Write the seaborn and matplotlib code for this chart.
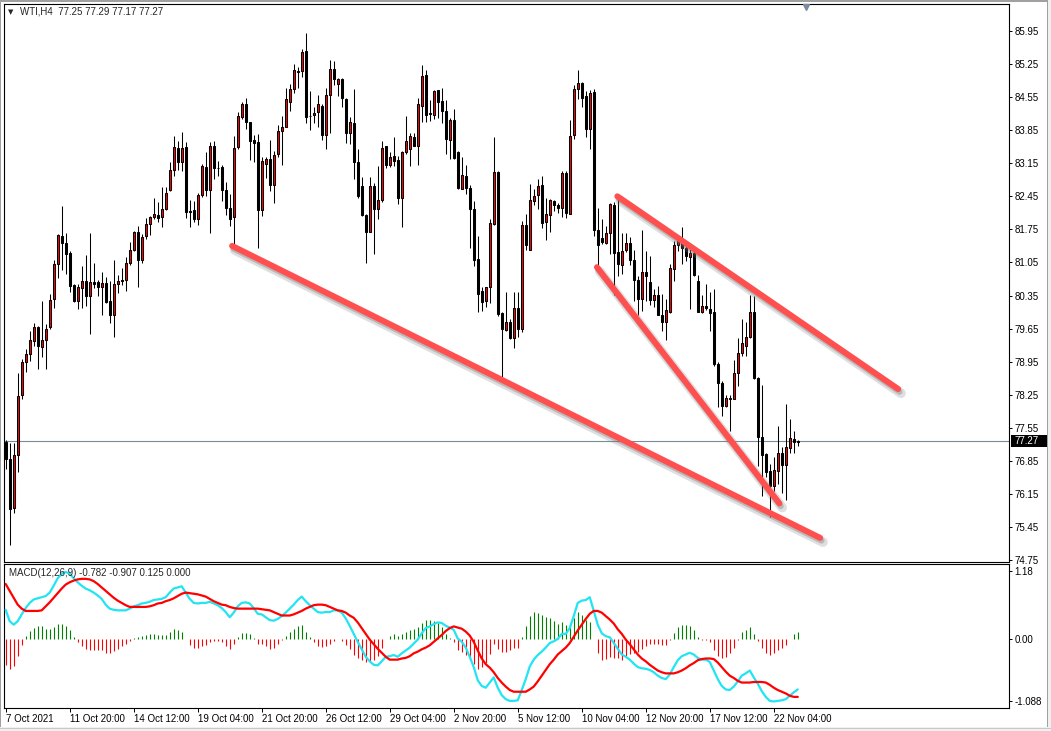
import numpy as np
import pandas as pd
import matplotlib
matplotlib.use("Agg")
import matplotlib.pyplot as plt
import matplotlib.patheffects as pe
import matplotlib.transforms as mtransforms
from matplotlib.patches import Rectangle
import seaborn as sns

# WTI, H4 candles (7 Oct 2021 -> 22 Nov 2021)
opens = [77.24, 76.90, 75.86, 76.97, 78.24, 78.94, 79.12, 79.39, 79.69, 79.26,
         79.41, 79.69, 80.28, 81.01, 81.61, 81.46, 81.24, 80.57, 80.23, 80.50,
         80.65, 80.34, 80.63, 80.63, 80.52, 80.61, 80.23, 79.94, 80.59, 80.65,
         80.67, 81.03, 81.32, 81.69, 81.11, 81.61, 81.87, 82.02, 82.05, 82.02,
         82.19, 82.59, 83.00, 83.47, 83.17, 83.49, 82.14, 82.15, 81.96, 82.47,
         83.06, 82.58, 83.51, 83.05, 83.06, 82.58, 82.20, 82.01, 83.49, 84.13,
         84.41, 84.02, 83.65, 83.60, 82.15, 83.14, 83.25, 82.69, 83.34, 83.83,
         83.92, 84.45, 84.72, 85.09, 85.10, 85.52, 84.16, 84.18, 84.23, 84.37,
         83.74, 84.59, 85.14, 84.82, 84.93, 84.51, 83.80, 84.00, 83.18, 82.66,
         82.05, 81.70, 82.66, 82.18, 82.38, 83.51, 83.12, 83.30, 83.21, 82.41,
         83.39, 83.45, 83.70, 83.52, 84.37, 85.02, 84.21, 84.18, 84.69, 84.47,
         84.25, 83.65, 84.07, 83.38, 82.61, 82.88, 82.63, 82.18, 81.13, 80.44,
         80.23, 80.52, 81.86, 82.96, 79.98, 79.63, 79.79, 79.45, 80.09, 79.64,
         81.85, 81.32, 82.34, 82.47, 82.69, 81.90, 82.05, 82.34, 82.27, 82.20,
         82.94, 82.08, 83.74, 84.72, 84.85, 84.58, 83.87, 84.65, 81.74, 81.57,
         81.47, 81.67, 82.27, 81.27, 81.00, 81.32, 81.46, 81.10, 80.68, 80.28,
         80.84, 80.63, 80.26, 80.36, 79.94, 79.80, 80.01, 80.92, 81.41, 81.48,
         81.35, 81.16, 81.25, 80.66, 80.01, 80.12, 80.07, 80.01, 78.91, 78.50,
         78.01, 78.19, 78.17, 78.70, 79.13, 79.28, 79.48, 80.00, 78.61, 77.35,
         76.99, 76.64, 76.32, 76.64, 77.02, 76.77, 77.12, 77.32, 77.25]
highs = [77.30, 77.23, 77.23, 78.72, 79.01, 79.21, 79.59, 79.77, 79.70, 80.23,
         79.74, 80.38, 81.11, 81.65, 82.25, 81.68, 81.29, 80.59, 80.59, 80.97,
         81.21, 81.68, 81.03, 80.68, 80.85, 80.75, 80.65, 81.11, 80.79, 80.94,
         81.17, 81.48, 81.72, 81.83, 81.65, 81.99, 82.03, 82.42, 82.32, 82.65,
         82.65, 83.18, 83.73, 83.62, 83.81, 83.60, 82.37, 82.36, 82.52, 83.14,
         83.39, 83.60, 83.61, 83.20, 83.12, 82.76, 82.50, 83.73, 84.23, 84.45,
         84.52, 84.03, 83.74, 83.76, 83.28, 83.28, 83.65, 83.41, 83.96, 84.16,
         84.75, 84.83, 85.26, 85.18, 85.56, 85.90, 84.67, 84.34, 84.59, 84.40,
         84.74, 85.33, 85.31, 84.96, 84.96, 84.52, 84.13, 84.72, 83.45, 82.85,
         82.07, 82.85, 82.74, 83.10, 83.63, 83.52, 83.39, 83.71, 83.30, 83.41,
         84.16, 83.79, 83.78, 84.54, 85.23, 85.12, 84.49, 84.69, 84.71, 84.75,
         84.49, 84.11, 84.30, 83.40, 83.28, 83.12, 82.69, 82.34, 81.62, 80.52,
         80.54, 81.97, 83.70, 82.99, 80.01, 80.43, 79.85, 80.43, 80.43, 81.92,
         82.08, 82.70, 82.61, 82.81, 82.88, 82.42, 82.39, 82.38, 82.30, 82.98,
         82.99, 84.07, 84.80, 85.12, 84.87, 84.67, 84.69, 84.72, 82.21, 81.98,
         81.83, 82.31, 82.32, 82.47, 81.67, 81.68, 81.58, 81.32, 80.76, 81.74,
         81.29, 81.18, 80.48, 80.56, 80.38, 80.28, 81.01, 81.50, 81.54, 81.80,
         81.50, 81.34, 81.32, 80.79, 80.37, 80.59, 80.43, 80.48, 78.94, 78.54,
         78.25, 78.25, 78.99, 79.45, 79.85, 79.79, 80.36, 80.34, 78.62, 78.46,
         77.02, 76.79, 76.94, 77.59, 77.15, 78.06, 77.74, 77.48, 77.29]
lows = [76.68, 75.08, 75.75, 76.62, 78.17, 78.74, 78.97, 79.28, 78.79, 79.05,
        78.79, 79.64, 80.08, 80.72, 80.90, 80.81, 80.43, 80.21, 80.07, 80.08,
        80.12, 79.53, 80.50, 80.34, 79.93, 80.20, 79.76, 79.47, 80.41, 80.57,
        80.45, 81.00, 81.29, 80.54, 81.04, 81.54, 81.63, 81.96, 81.91, 81.79,
        82.16, 82.56, 82.89, 83.00, 82.98, 81.99, 81.81, 81.91, 81.85, 82.43,
        82.45, 81.67, 82.82, 82.89, 82.36, 82.05, 81.83, 81.40, 83.45, 84.08,
        83.87, 83.21, 83.17, 81.35, 82.03, 82.83, 82.56, 82.31, 83.28, 83.11,
        83.91, 84.25, 84.64, 84.75, 84.98, 84.00, 83.86, 84.01, 83.92, 83.65,
        83.45, 83.78, 84.80, 84.58, 84.35, 83.57, 83.56, 82.81, 82.42, 82.03,
        81.03, 81.69, 81.23, 81.98, 82.32, 83.04, 83.07, 83.09, 82.29, 81.81,
        83.35, 83.09, 83.51, 83.12, 84.03, 84.03, 84.05, 84.09, 84.11, 84.01,
        83.35, 83.23, 83.23, 82.61, 82.60, 82.50, 81.36, 80.97, 80.01, 80.03,
        80.10, 80.19, 81.85, 79.92, 78.63, 79.59, 79.43, 79.24, 79.48, 79.57,
        81.32, 81.32, 82.27, 82.19, 81.78, 81.52, 81.69, 82.14, 82.10, 82.01,
        81.99, 82.07, 83.67, 84.51, 84.34, 83.70, 83.45, 81.61, 80.95, 81.45,
        81.45, 81.23, 80.36, 80.76, 80.81, 81.28, 80.99, 80.23, 79.93, 80.03,
        80.23, 80.15, 80.10, 79.93, 79.59, 79.41, 79.99, 80.65, 81.30, 81.02,
        81.08, 80.07, 80.76, 80.01, 79.99, 80.05, 79.59, 78.86, 77.99, 77.81,
        77.99, 77.48, 78.16, 78.43, 79.08, 79.08, 79.46, 78.59, 76.75, 76.10,
        76.50, 75.66, 76.22, 76.37, 76.17, 76.02, 77.02, 77.02, 77.17]
closes = [76.90, 75.84, 76.97, 78.22, 78.95, 79.12, 79.41, 79.69, 79.28, 79.41,
          79.64, 80.25, 81.01, 81.63, 81.46, 81.23, 80.55, 80.23, 80.54, 80.65,
          80.34, 80.63, 80.59, 80.52, 80.61, 80.21, 79.94, 80.59, 80.65, 80.68,
          81.03, 81.32, 81.70, 81.11, 81.59, 81.87, 82.02, 82.08, 81.99, 82.18,
          82.52, 83.00, 83.49, 83.17, 83.47, 82.12, 82.12, 81.98, 82.48, 83.09,
          82.59, 83.51, 83.04, 83.04, 82.58, 82.21, 81.98, 83.47, 84.16, 84.41,
          84.02, 83.63, 83.57, 82.15, 83.20, 83.23, 82.69, 83.32, 83.83, 83.91,
          84.51, 84.72, 85.12, 85.10, 85.50, 84.12, 84.14, 84.21, 84.40, 83.74,
          84.59, 85.14, 84.93, 84.93, 84.53, 83.80, 84.02, 83.17, 82.45, 82.05,
          81.70, 82.66, 82.18, 82.38, 83.47, 83.12, 83.28, 83.20, 82.42, 83.39,
          83.62, 83.72, 83.52, 84.40, 84.99, 84.18, 84.20, 84.67, 84.45, 84.25,
          83.67, 84.07, 83.27, 82.63, 82.90, 82.63, 82.18, 81.11, 80.39, 80.21,
          80.52, 81.89, 82.96, 79.96, 79.64, 79.79, 79.45, 80.09, 79.64, 81.85,
          81.41, 82.37, 82.45, 82.66, 81.89, 82.08, 82.37, 82.26, 82.20, 82.95,
          82.09, 83.73, 84.72, 84.85, 84.54, 83.87, 84.64, 81.74, 81.41, 81.48,
          81.67, 82.29, 81.25, 81.01, 81.30, 81.47, 81.10, 80.67, 80.28, 80.84,
          80.76, 80.26, 80.36, 79.94, 79.79, 80.04, 80.94, 81.41, 81.50, 81.35,
          81.18, 81.25, 80.78, 80.01, 80.12, 80.09, 79.99, 78.90, 78.50, 78.01,
          78.19, 78.17, 78.70, 79.13, 79.34, 79.48, 80.01, 78.61, 77.35, 76.97,
          76.62, 76.32, 76.66, 77.02, 76.77, 77.15, 77.33, 77.26, 77.27]

# MACD(12,26,9): main line (aqua) and signal line (red)
macd_main = [0.51, 0.31, 0.25, 0.31, 0.43, 0.54, 0.63, 0.69, 0.71, 0.73,
             0.75, 0.81, 0.93, 1.06, 1.14, 1.17, 1.14, 1.06, 0.99, 0.93,
             0.88, 0.85, 0.81, 0.76, 0.70, 0.60, 0.53, 0.51, 0.50, 0.50,
             0.50, 0.53, 0.57, 0.59, 0.62, 0.63, 0.65, 0.68, 0.69, 0.70,
             0.73, 0.81, 0.88, 0.90, 0.92, 0.81, 0.70, 0.63, 0.62, 0.63,
             0.63, 0.65, 0.62, 0.59, 0.54, 0.47, 0.38, 0.46, 0.57, 0.63,
             0.64, 0.62, 0.54, 0.44, 0.43, 0.38, 0.33, 0.32, 0.35, 0.40,
             0.46, 0.53, 0.60, 0.68, 0.74, 0.66, 0.59, 0.53, 0.47, 0.46,
             0.47, 0.47, 0.50, 0.50, 0.46, 0.36, 0.23, 0.09, -0.05, -0.18,
             -0.31, -0.39, -0.45, -0.46, -0.39, -0.31, -0.30, -0.28, -0.31, -0.25,
             -0.20, -0.15, -0.08, -0.01, 0.10, 0.19, 0.22, 0.26, 0.29, 0.28,
             0.23, 0.20, 0.16, 0.01, -0.05, -0.15, -0.31, -0.49, -0.72, -0.82,
             -0.85, -0.76, -0.67, -0.85, -0.98, -1.05, -1.08, -1.08, -1.07, -0.89,
             -0.70, -0.48, -0.36, -0.28, -0.22, -0.15, -0.07, -0.04, 0.00, 0.09,
             0.09, 0.19, 0.40, 0.63, 0.67, 0.68, 0.73, 0.49, 0.25, 0.10,
             0.05, 0.03, -0.07, -0.17, -0.27, -0.31, -0.36, -0.43, -0.49, -0.51,
             -0.52, -0.54, -0.58, -0.64, -0.68, -0.70, -0.62, -0.49, -0.37, -0.30,
             -0.27, -0.24, -0.27, -0.33, -0.36, -0.36, -0.40, -0.55, -0.70, -0.82,
             -0.88, -0.89, -0.83, -0.74, -0.64, -0.60, -0.55, -0.67, -0.78, -0.91,
             -1.01, -1.08, -1.09, -1.08, -1.07, -1.05, -0.99, -0.93, -0.88]
macd_signal = [0.96, 0.84, 0.72, 0.60, 0.53, 0.49, 0.49, 0.49, 0.49, 0.50,
               0.57, 0.64, 0.72, 0.80, 0.88, 0.95, 0.99, 1.02, 1.04, 1.05,
               1.05, 1.04, 1.01, 0.96, 0.90, 0.84, 0.78, 0.72, 0.67, 0.63,
               0.59, 0.56, 0.56, 0.56, 0.56, 0.56, 0.57, 0.59, 0.62, 0.63,
               0.66, 0.68, 0.71, 0.75, 0.79, 0.81, 0.80, 0.79, 0.78, 0.76,
               0.74, 0.70, 0.66, 0.63, 0.60, 0.59, 0.56, 0.54, 0.53, 0.53,
               0.53, 0.53, 0.53, 0.53, 0.52, 0.51, 0.50, 0.47, 0.44, 0.41,
               0.41, 0.41, 0.43, 0.46, 0.49, 0.53, 0.56, 0.59, 0.60, 0.60,
               0.59, 0.56, 0.53, 0.50, 0.49, 0.46, 0.41, 0.37, 0.29, 0.19,
               0.09, -0.01, -0.09, -0.17, -0.24, -0.31, -0.36, -0.36, -0.36, -0.34,
               -0.33, -0.30, -0.25, -0.22, -0.18, -0.15, -0.11, -0.05, 0.01, 0.07,
               0.14, 0.19, 0.22, 0.20, 0.18, 0.13, 0.06, -0.05, -0.20, -0.34,
               -0.44, -0.50, -0.58, -0.68, -0.76, -0.83, -0.89, -0.92, -0.92, -0.92,
               -0.92, -0.88, -0.83, -0.74, -0.64, -0.54, -0.44, -0.36, -0.27, -0.21,
               -0.15, -0.07, 0.04, 0.15, 0.25, 0.35, 0.44, 0.49, 0.49, 0.46,
               0.40, 0.34, 0.27, 0.17, 0.09, -0.01, -0.09, -0.18, -0.27, -0.34,
               -0.39, -0.45, -0.50, -0.55, -0.58, -0.60, -0.60, -0.60, -0.58, -0.55,
               -0.51, -0.46, -0.42, -0.37, -0.35, -0.34, -0.34, -0.35, -0.41, -0.49,
               -0.57, -0.64, -0.68, -0.73, -0.76, -0.76, -0.76, -0.75, -0.75, -0.75,
               -0.76, -0.80, -0.85, -0.89, -0.92, -0.95, -0.99, -1.01, -1.01]

date_ticks = [0, 16, 32, 48, 64, 80, 96, 112, 128, 144, 160, 176, 192]
date_labels = ["7 Oct 2021", "11 Oct 20:00", "14 Oct 12:00", "19 Oct 04:00",
               "21 Oct 20:00", "26 Oct 12:00", "29 Oct 04:00", "2 Nov 20:00",
               "5 Nov 12:00", "10 Nov 04:00", "12 Nov 20:00", "17 Nov 12:00",
               "22 Nov 04:00"]
price_ticks = [74.75, 75.45, 76.15, 76.85, 77.55, 78.25, 78.95, 79.65, 80.35,
               81.05, 81.75, 82.45, 83.15, 83.85, 84.55, 85.25, 85.95]
macd_ticks = [-1.088, 0.0, 1.18]
macd_tick_labels = ["-1.088", "0.00", "1.18"]
last_price = 77.27

# hand drawn trend lines: (bar, price) -> (bar, price)
trend_lines = [((56.6, 81.40), (203.6, 75.22)),
               ((152.9, 82.45), (223.1, 78.37)),
               ((147.8, 80.95), (193.4, 75.95))]

df = pd.DataFrame({"open": opens, "high": highs, "low": lows, "close": closes,
                   "macd": macd_main, "signal": macd_signal})
df["bar"] = np.arange(len(df))
df["hist"] = df["macd"] - df["signal"]
bull = df["close"] >= df["open"]

sns.set_style("white")
plt.rcParams["font.family"] = ["Liberation Sans", "DejaVu Sans"]

W, H = 1051, 731
fig = plt.figure(figsize=(W / 100, H / 100), dpi=100)
fig.patch.set_facecolor("white")

ax = fig.add_axes([4 / W, 1 - 562 / H, 1005 / W, 558 / H])
ax2 = fig.add_axes([4 / W, 1 - 708 / H, 1005 / W, 144 / H])

xlim = (-0.42, 250.8)

# ---- price panel: candles
ax.vlines(df["bar"], df["low"], df["high"], color="black", lw=0.75, zorder=2)
body_lo = df[["open", "close"]].min(axis=1)
body_h = (df["close"] - df["open"]).abs()
ax.bar(df["bar"], body_h, bottom=body_lo, width=0.55,
       color=np.where(bull, "#ff0000", "black"), edgecolor="black",
       linewidth=0.75, zorder=3)

ax.axhline(last_price, color="#7a8a9a", lw=0.8, zorder=1)

shadow = [pe.SimpleLineShadow(offset=(2, -3), shadow_color="#808080", alpha=0.25, linewidth=7),
          pe.SimpleLineShadow(offset=(1, -2), shadow_color="#707070", alpha=0.35),
          pe.Normal()]
for (x0, y0), (x1, y1) in trend_lines:
    ax.plot([x0, x1], [y0, y1], color="#ff4f4f", lw=4.3, solid_capstyle="round",
            zorder=4, path_effects=shadow)

ax.set_xlim(*xlim)
ax.set_ylim(74.71, 86.52)
ax.set_xticks([])
ax.yaxis.tick_right()
ax.set_yticks(price_ticks)
ax.set_yticklabels([f"{v:.2f}" for v in price_ticks])
ax.tick_params(axis="y", direction="out", length=2.5, width=0.7, pad=1.5,
               labelsize=7, colors="black", right=True, left=False)

# black price marker box on the right scale
trans = mtransforms.blended_transform_factory(ax.transAxes, ax.transData)
ax.add_patch(Rectangle((1.002, last_price - 0.125), 0.036, 0.25, transform=trans,
                       facecolor="black", edgecolor="none", clip_on=False, zorder=6))
ax.text(1.0055, last_price, "77.27", transform=trans, color="white", fontsize=7,
        va="center", ha="left", zorder=7)

trans_top = mtransforms.blended_transform_factory(ax.transData, ax.transAxes)
ax.plot([200.1], [1 - 3 / 558], marker="v", ms=5, color="#7b8b9b",
        transform=trans_top, clip_on=False, zorder=6)

# ---- MACD panel
ax2.vlines(df["bar"], 0, df["hist"],
           colors=np.where(df["hist"] > 0, "#007f00", "#ff0000"), lw=0.8, zorder=1)
sns.lineplot(data=df, x="bar", y="macd", ax=ax2, color="#22e4f2", lw=1.6,
             sort=False, errorbar=None, zorder=3)
sns.lineplot(data=df, x="bar", y="signal", ax=ax2, color="#ff0000", lw=1.6,
             sort=False, errorbar=None, zorder=4)
ax2.set_xlim(*xlim)
ax2.set_ylim(-1.204, 1.309)
ax2.set_xlabel("")
ax2.set_ylabel("")
ax2.yaxis.tick_right()
ax2.set_yticks(macd_ticks)
ax2.set_yticklabels(macd_tick_labels)
ax2.set_xticks(date_ticks)
ax2.set_xticklabels(date_labels)
for lab in ax2.get_xticklabels():
    lab.set_horizontalalignment("left")
ax2.tick_params(axis="y", direction="out", length=2.5, width=0.7, pad=1.5,
                labelsize=7, colors="black", right=True, left=False)
ax2.tick_params(axis="x", direction="out", length=3, width=0.7, pad=1.5,
                labelsize=7, colors="black", bottom=True)

for a in (ax, ax2):
    a.grid(False)
    for s in a.spines.values():
        s.set_visible(True)
        s.set_color("black")
        s.set_linewidth(0.8)

# header texts
fig.text(8 / W, 1 - 12 / H, "\u25bc", fontsize=5, family="DejaVu Sans", va="center")
fig.text(20 / W, 1 - 12 / H, "WTI,H4  77.25 77.29 77.17 77.27", fontsize=7, va="center")
fig.text(9 / W, 1 - 573 / H, "MACD(12,26,9) -0.782 -0.907 0.125 0.000", fontsize=7, va="center")

# window frame
def px_rect(x, y, w, h, c):
    fig.add_artist(Rectangle((x / W, 1 - (y + h) / H), w / W, h / H,
                             transform=fig.transFigure, color=c, lw=0, zorder=0))

px_rect(0, 0, W, 2, "#a0a0a0")
px_rect(0, 0, 1, H, "#a0a0a0")
px_rect(1047, 0, 1, H, "#a0a0a0")
px_rect(1048, 0, 3, H, "#f0f0f0")
px_rect(0, 727, W, 4, "#f0f0f0")
px_rect(0, 728, W, 1, "#c8c8c8")

fig.savefig("out.png", dpi=100)
